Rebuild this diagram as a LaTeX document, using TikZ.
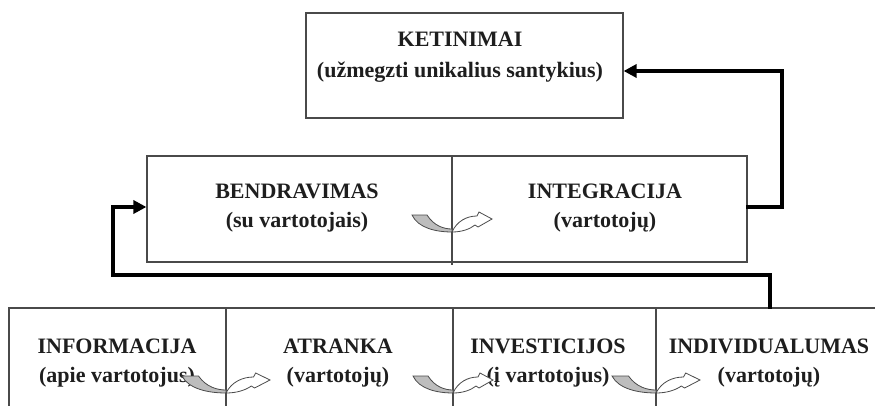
\documentclass[tikz,border=0pt]{standalone}
\usepackage{fontspec}
\setmainfont{Liberation Serif}
\usetikzlibrary{arrows.meta}
\definecolor{boxc}{HTML}{4A4A4A}
\definecolor{textc}{HTML}{1E1E1E}
\definecolor{ribbon}{HTML}{BDBDBD}
\tikzset{
  box/.style={draw=boxc, line width=1.2pt, inner sep=0pt, fill=white},
  divider/.style={draw=boxc, line width=1.1pt},
  txt/.style={font=\fontsize{22}{29}\selectfont\bfseries, align=center, text=textc, inner sep=0pt},
  conn/.style={draw=black, line width=3.6pt, line cap=rect,
    -{Triangle[length=13pt,width=13pt]}},
  twist/.pic={
    \filldraw[fill=ribbon, draw=boxc, line width=0.8pt]
      (-40,-17) -- (-25,-17) .. controls (-18,-6) and (-8,-3) .. (0,-3)
      -- (0,0) .. controls (-16,0) and (-34,-4) .. (-40,-17) -- cycle;
    \filldraw[fill=white, draw=boxc, line width=0.8pt]
      (0,0) .. controls (10,0) and (18,-3) .. (23,-7)
      -- (26,-5) -- (40,-13) -- (27,-20) -- (25,-16)
      .. controls (15,-16) and (5,-11) .. (0,0) -- cycle;
  }
}
\begin{document}
\begin{tikzpicture}[x=1pt,y=-1pt]
\useasboundingbox (0,0) rectangle (875,406);
\clip (0,0) rectangle (875,406);
\fill[white] (0,0) rectangle (875,406);

% boxes
\node[box, minimum width=317pt, minimum height=105pt] (ket) at (464.5,65.5) {};
\node[box, minimum width=600pt, minimum height=106pt] (mid) at (447,209) {};
\node[box, minimum width=890pt, minimum height=130pt] (bot) at (454,373) {};

% dividers
\coordinate (d1t) at (452,156); \coordinate (d1b) at (452,265);
\draw[divider] (d1t) -- (d1b);
\coordinate (d2t) at (226,308); \coordinate (d2b) at (226,410);
\coordinate (d3t) at (453,308); \coordinate (d3b) at (453,410);
\coordinate (d4t) at (656,308); \coordinate (d4b) at (656,410);
\draw[divider] (d2t) -- (d2b);
\draw[divider] (d3t) -- (d3b);
\draw[divider] (d4t) -- (d4b);

% texts
\node[txt] (t1) at (460,57) {KETINIMAI\\[2pt](užmegzti unikalius santykius)};
\node[txt] (t2) at (297,208) {BENDRAVIMAS\\(su vartotojais)};
\node[txt] (t3) at (605,208) {INTEGRACIJA\\(vartotojų)};
\node[txt] (t4) at (117,363) {INFORMACIJA\\(apie vartotojus)};
\node[txt] (t5) at (338,363) {ATRANKA\\(vartotojų)};
\node[txt] (t6) at (548,363) {INVESTICIJOS\\(į vartotojus)};
\node[txt] (t7) at (769,363) {INDIVIDUALUMAS\\(vartotojų)};

% twisted arrows
\pic at (452,232) {twist};
\pic[xscale=1.1] at (226,393) {twist};
\pic[xscale=1.0] at (453,393) {twist};
\pic[xscale=1.1] at (656,393) {twist};

% connectors
\coordinate (r1) at (782,207);
\coordinate (r2) at (782,71);
\draw[conn] (mid.east |- r1) -- (r1) -- (r2) -- (ket.east |- r2);
\coordinate (l1) at (770,275);
\coordinate (l2) at (113,275);
\coordinate (l3) at (113,207);
\draw[conn] (bot.north -| l1) -- (l1) -- (l2) -- (l3) -- (mid.west |- l3);
\end{tikzpicture}
\end{document}
